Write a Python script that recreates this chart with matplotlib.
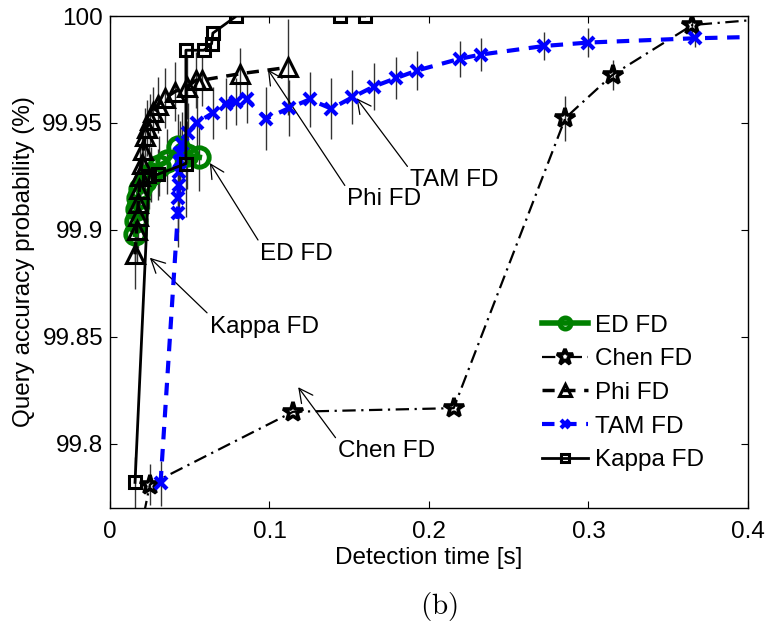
import matplotlib
matplotlib.use("Agg")
import matplotlib.pyplot as plt
from matplotlib.lines import Line2D

plt.rcParams["font.family"] = ["Liberation Sans", "DejaVu Sans"]
plt.rcParams["mathtext.fontset"] = "cm"

# ED FD
ed_x = [0.0160, 0.0163, 0.0168, 0.0175, 0.0190, 0.0220, 0.0260, 0.0310, 0.0355, 0.0428, 0.0480, 0.0560]
ed_y = [99.898, 99.904, 99.910, 99.915, 99.919, 99.923, 99.926, 99.930, 99.932, 99.939, 99.935, 99.934]
ed_err = [0.014, 0.014, 0.014, 0.013, 0.013, 0.013, 0.013, 0.014, 0.015, 0.015, 0.016, 0.016]

# Chen FD
chen_x = [0.018, 0.025, 0.1148, 0.2155, 0.2855, 0.3151, 0.3652, 0.45]
chen_y = [99.755, 99.781, 99.815, 99.8167, 99.9523, 99.9725, 99.9958, 100.001]
chen_err = [0.0, 0.0094, 0.0, 0.0, 0.0105, 0.007, 0.004, 0.0]

# Phi FD
phi_x = [0.0157, 0.0167, 0.0173, 0.0177, 0.0184, 0.0188, 0.0198, 0.0209, 0.0219, 0.0230,
         0.0250, 0.0271, 0.0302, 0.0344, 0.0407, 0.0484, 0.0540, 0.0574, 0.0814, 0.1117]
phi_y = [99.8886, 99.900, 99.9065, 99.9127, 99.919, 99.925, 99.931, 99.9376, 99.944, 99.9477,
         99.9515, 99.955, 99.9585, 99.9616, 99.9647, 99.967, 99.970, 99.970, 99.973, 99.976]
phi_err = [0.016, 0.015, 0.015, 0.014, 0.014, 0.014, 0.014, 0.013, 0.013, 0.013,
           0.012, 0.012, 0.013, 0.014, 0.014, 0.015, 0.013, 0.012, 0.012, 0.0225]

# TAM FD
tam_x = [0.0317, 0.0426, 0.0428, 0.0430, 0.0433, 0.0436, 0.0440, 0.0452, 0.0489, 0.0543,
         0.0645, 0.0730, 0.0793, 0.0856, 0.0980, 0.1123, 0.1252, 0.1388, 0.1520, 0.1653,
         0.1795, 0.1924, 0.2192, 0.2327, 0.2723, 0.3000, 0.3667, 0.45]
tam_y = [99.7815, 99.908, 99.915, 99.921, 99.927, 99.932, 99.936, 99.940, 99.9455, 99.950,
         99.9547, 99.959, 99.960, 99.961, 99.952, 99.957, 99.961, 99.9567, 99.962, 99.967,
         99.971, 99.9745, 99.980, 99.982, 99.986, 99.9876, 99.9896, 99.991]
tam_err = [0.0105, 0.016, 0.016, 0.015, 0.015, 0.015, 0.015, 0.015, 0.014, 0.013,
           0.012, 0.012, 0.011, 0.011, 0.0148, 0.013, 0.0128, 0.0144, 0.0127, 0.011,
           0.010, 0.0093, 0.0085, 0.0078, 0.0066, 0.0066, 0.004, 0.0]

# Kappa FD
kappa_x = [0.0157, 0.0245, 0.0300, 0.0476, 0.0476, 0.0589, 0.0637, 0.0645, 0.0793, 0.1440, 0.1597]
kappa_y = [99.782, 99.925, 99.926, 99.931, 99.984, 99.984, 99.987, 99.992, 100.0, 100.0, 100.0]
kappa_err = [0.012, 0.015, 0.012, 0.025, 0.0, 0.0, 0.0, 0.0, 0.0, 0.0, 0.0]

x_ticks = [0, 0.1, 0.2, 0.3, 0.4]
y_ticks = [99.8, 99.85, 99.9, 99.95, 100]

fig = plt.figure(figsize=(7.68, 6.28), dpi=100)
ax = fig.add_axes([0.1432, 0.191, 0.8307, 0.7835])

# error bars first, lines on top
eb = dict(fmt="none", ecolor="0.2", elinewidth=1.0, capsize=0, zorder=2)
ax.errorbar(ed_x, ed_y, yerr=ed_err, **eb)
ax.errorbar(chen_x, chen_y, yerr=chen_err, **eb)
ax.errorbar(phi_x, phi_y, yerr=phi_err, **eb)
ax.errorbar(tam_x, tam_y, yerr=tam_err, **eb)
ax.errorbar(kappa_x, kappa_y, yerr=kappa_err, **eb)

ed_style = dict(color="#008000", lw=4, marker="o", mfc="none", mec="#008000", mew=3.5)
chen_style = dict(color="k", lw=1.6, ls=(0, (6, 2.5, 1, 2.5)), marker="*", mfc="none", mec="k", mew=2.6)
phi_style = dict(color="k", lw=2.5, ls=(0, (3.5, 2.5)), marker="^", mfc="none", mec="k", mew=2.2)
tam_style = dict(color="#0000ff", lw=3, ls=(0, (3, 2.3)), marker="x", mec="#0000ff", mew=3)
kappa_style = dict(color="k", lw=2, ls="-", marker="s", mfc="none", mec="k", mew=2.2)

ax.plot(ed_x, ed_y, ms=14, zorder=3, **ed_style)
ax.plot(chen_x, chen_y, ms=15, zorder=4, **chen_style)
ax.plot(phi_x, phi_y, ms=13, zorder=5, **phi_style)
ax.plot(tam_x, tam_y, ms=8, zorder=6, **tam_style)
ax.plot(kappa_x, kappa_y, ms=8, zorder=7, **kappa_style)

ax.set_xlim(0, 0.4)
ax.set_ylim(99.77, 100)
ax.set_xticks(x_ticks)
ax.set_xticklabels(["%g" % v for v in x_ticks])
ax.set_yticks(y_ticks)
ax.set_yticklabels(["%g" % v for v in y_ticks])
ax.tick_params(direction="in", top=True, right=True, length=5, width=0.8,
               labelsize=17.5, colors="k")
ax.tick_params(axis="x", pad=9)
ax.tick_params(axis="y", pad=5)
for s in ax.spines.values():
    s.set_linewidth(1.0)

ax.set_xlabel("Detection time [s]", fontsize=17.5, labelpad=3)
ax.set_ylabel("Query accuracy probability (%)", fontsize=17.5, labelpad=5)

# text arrows
arrow = dict(arrowstyle="->,head_length=0.55,head_width=0.28", color="k", lw=0.9,
             relpos=(0, 1), shrinkA=0, shrinkB=0, mutation_scale=18)
ax.annotate("Phi FD", xy=(0.099, 99.975), xytext=(0.1484, 99.9195),
            ha="left", va="top", fontsize=17.5, arrowprops=arrow)
ax.annotate("TAM FD", xy=(0.1545, 99.9616), xytext=(0.1878, 99.9284),
            ha="left", va="top", fontsize=17.5, arrowprops=arrow)
ax.annotate("ED FD", xy=(0.0626, 99.9313), xytext=(0.0939, 99.894),
            ha="left", va="top", fontsize=17.5, arrowprops=arrow)
ax.annotate("Kappa FD", xy=(0.025, 99.887), xytext=(0.0626, 99.860),
            ha="left", va="top", fontsize=17.5, arrowprops=arrow)
ax.annotate("Chen FD", xy=(0.118, 99.8265), xytext=(0.1427, 99.8016),
            ha="left", va="top", fontsize=17.5, arrowprops=arrow)

handles = [
    Line2D([], [], ms=8, **ed_style),
    Line2D([], [], ms=12, **chen_style),
    Line2D([], [], ms=9, **phi_style),
    Line2D([], [], ms=6, **tam_style),
    Line2D([], [], ms=6, **kappa_style),
]
labels = ["ED FD", "Chen FD", "Phi FD", "TAM FD", "Kappa FD"]
ax.legend(handles, labels, loc="center left", bbox_to_anchor=(0.677, 0.234),
          frameon=False, fontsize=17.5, handlelength=1.9, handletextpad=0.3,
          labelspacing=0.48, borderpad=0, borderaxespad=0)

fig.text(0.572, 0.035, r"$\mathrm{(b)}$", fontsize=21, ha="center", va="center")

fig.savefig("out.png", dpi=100)
